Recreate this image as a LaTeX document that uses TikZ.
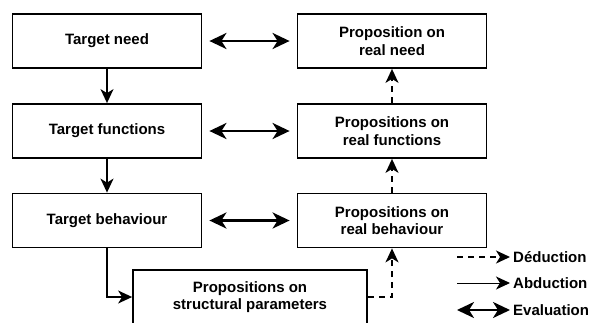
\documentclass[tikz,border=0pt]{standalone}
\usepackage{fontspec}
\setmainfont{Liberation Sans}
\usetikzlibrary{arrows.meta,positioning}

\begin{document}
\begin{tikzpicture}[x=1pt,y=-1pt,
  box/.style={draw,line width=1.8pt,minimum width=189pt,minimum height=54pt,
    align=center,inner sep=0pt,font=\bfseries\fontsize{15}{17.3}\selectfont},
  abd/.style={line width=1.6pt,-{Stealth[length=14pt,width=13pt,inset=4pt]}},
  ded/.style={abd,dash pattern=on 6pt off 5pt},
  eva/.style={line width=2.6pt,{Stealth[length=17pt,width=16pt,inset=5pt]}-{Stealth[length=17pt,width=16pt,inset=5pt]},
    shorten <=7pt,shorten >=7pt},
  lab/.style={anchor=west,inner sep=3pt,font=\bfseries\fontsize{15}{17.3}\selectfont}]
\useasboundingbox (0,0) rectangle (597,322);

% target side
\node[box] (need) at (107,41) {Target need};
\node[box] (func) at (107,131) {Target functions};
\node[box] (behav) at (107,220.5) {Target behaviour};
\node[box,minimum width=234pt] (struct) at (250,297) {Propositions on\\structural parameters};

% real side
\node[box] (rneed) at (392,41) {Proposition on\\real need};
\node[box] (rfunc) at (392,131) {Propositions on\\real functions};
\node[box] (rbehav) at (392,220.5) {Propositions on\\real behaviour};

\draw[abd] (need) -- (func);
\draw[abd] (func) -- (behav);
\draw[abd] (behav.south) |- (struct.west);

\draw[ded] (struct.east) -| (rbehav.south);
\draw[ded] (rbehav) -- (rfunc);
\draw[ded] (rfunc) -- (rneed);

\draw[eva] (need) -- (rneed);
\draw[eva] (func) -- (rfunc);
\draw[eva] (behav) -- (rbehav);

% legend
\node[lab] (dedl) at (510,257) {Déduction};
\node[lab] (abdl) at (510,283) {Abduction};
\node[lab] (eval) at (510,310) {Evaluation};
\coordinate (d0) at (457,257);
\coordinate (a0) at (457,283);
\coordinate (e0) at (457,310);
\draw[ded] (d0) -- (dedl.west);
\draw[abd,line width=1pt] (a0) -- (abdl.west);
\draw[eva,shorten <=0pt,shorten >=0pt] (e0) -- (eval.west);
\end{tikzpicture}
\end{document}
